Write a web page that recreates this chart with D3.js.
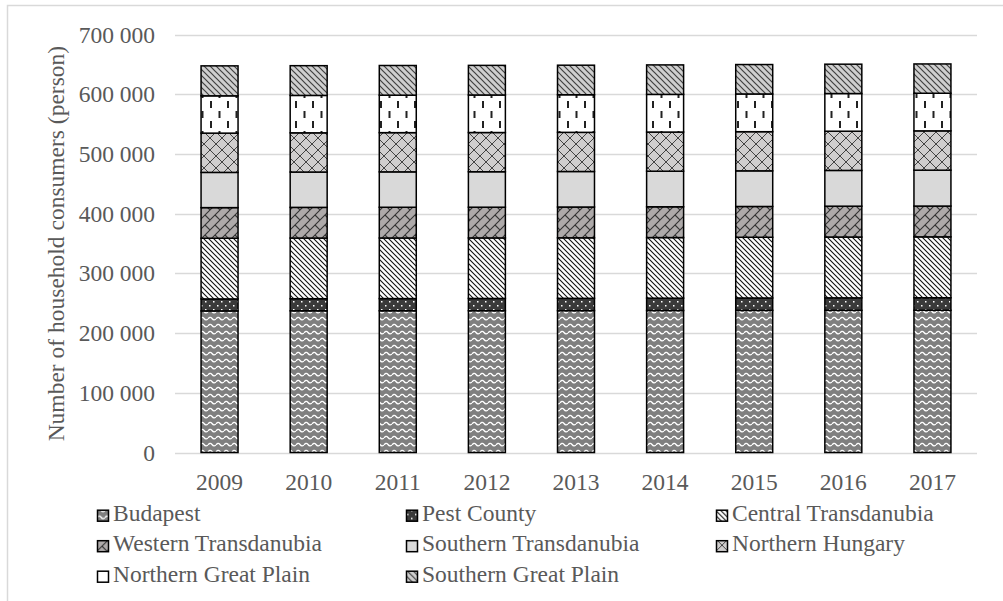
<!DOCTYPE html>
<html>
<head>
<meta charset="utf-8">
<script src="https://cdn.jsdelivr.net/npm/d3@7"></script>
<style>
  html, body { margin: 0; padding: 0; background: #fff; }
  svg { display: block; }
  text { font-family: "Liberation Serif", "Times New Roman", serif; fill: #595959; }
</style>
</head>
<body>
<svg id="chart" width="1003" height="601"></svg>
<script>
// ---- Data (persons) ----
const years = ["2009", "2010", "2011", "2012", "2013", "2014", "2015", "2016", "2017"];
const seriesNames = ["Budapest", "Pest County", "Central Transdanubia", "Western Transdanubia",
  "Southern Transdanubia", "Northern Hungary", "Northern Great Plain", "Southern Great Plain"];
const budapest            = [237200, 237400, 237500, 237600, 237700, 237900, 238100, 238200, 238300];
const pestCounty          = [20100, 20300, 20400, 20500, 20600, 20700, 20800, 20900, 21000];
const centralTransdanubia = [101700, 101600, 101500, 101400, 101400, 101500, 101700, 101900, 102000];
const westernTransdanubia = [51300, 51400, 51500, 51500, 51600, 51600, 51600, 51700, 51600];
const southernTransdanubia= [59000, 59200, 59300, 59400, 59500, 59600, 59700, 59900, 60100];
const northernHungary     = [65800, 65700, 65700, 65700, 65600, 65600, 65600, 65700, 65900];
const northernGreatPlain  = [62500, 62700, 62800, 62900, 63000, 63100, 63200, 63100, 63000];
const southernGreatPlain  = [50200, 49800, 49700, 49600, 49500, 49400, 49300, 49200, 49100];
const yTicks = [0, 100000, 200000, 300000, 400000, 500000, 600000, 700000];
const yTitle = "Number of household consumers (person)";

const seriesValues = [budapest, pestCounty, centralTransdanubia, westernTransdanubia,
  southernTransdanubia, northernHungary, northernGreatPlain, southernGreatPlain];

// table for d3.stack
const table = years.map((y, i) => {
  const row = { year: y };
  seriesNames.forEach((s, k) => row[s] = seriesValues[k][i]);
  return row;
});

const FS = 23.5;
const svg = d3.select("#chart");

// ---- outer chart border ----
svg.append("rect").attr("x", 7.5).attr("y", 5.5).attr("width", 1000).attr("height", 600)
  .attr("fill", "none").attr("stroke", "#d9d9d9").attr("stroke-width", 1.5);

// ---- patterns ----
const defs = svg.append("defs");
function pattern(id, w, h, bg, draw) {
  const p = defs.append("pattern").attr("id", id).attr("patternUnits", "userSpaceOnUse")
    .attr("width", w).attr("height", h);
  p.append("rect").attr("width", w).attr("height", h).attr("fill", bg);
  draw(p);
}
pattern("p0", 8, 7, "#7f7f7f", p => p.append("path")
  .attr("d", "M0,4 Q2,1 4,3.5 Q6,6 8,4").attr("fill", "none").attr("stroke", "#fff").attr("stroke-width", 1.3));
pattern("p1", 8, 8, "#3a3a3a", p => {
  p.append("rect").attr("x", 1).attr("y", 1).attr("width", 1.5).attr("height", 1.5).attr("fill", "#fff");
  p.append("rect").attr("x", 5).attr("y", 5).attr("width", 1.5).attr("height", 1.5).attr("fill", "#fff");
});
pattern("p2", 5, 5, "#fff", p => p.append("path")
  .attr("d", "M0,0 L5,5 M-1,4 L1,6 M4,-1 L6,1").attr("stroke", "#111").attr("stroke-width", 1.1));
pattern("p3", 10, 10, "#aeaaaa", p => p.append("path")
  .attr("d", "M0,10 L10,0 M-1,1 L1,-1 M9,11 L11,9 M5,5 L10,10").attr("stroke", "#333").attr("stroke-width", 1.1));
pattern("p4", 10, 10, "#d9d9d9", p => {});
pattern("p5", 12, 12, "#d0cece", p => p.append("path")
  .attr("d", "M0,0 L12,12 M12,0 L0,12").attr("stroke", "#444").attr("stroke-width", 1));
pattern("p6", 17, 20, "#fff", p => {
  p.append("rect").attr("x", 6).attr("y", 1).attr("width", 2).attr("height", 7).attr("fill", "#222");
  p.append("rect").attr("x", 14.5).attr("y", 11).attr("width", 2).attr("height", 7).attr("fill", "#222");
});
pattern("p7", 6, 6, "#cfcfcf", p => p.append("path")
  .attr("d", "M0,0 L6,6 M-1,5 L1,7 M5,-1 L7,1").attr("stroke", "#404040").attr("stroke-width", 1.2));

// ---- scales ----
const x = d3.scaleBand().domain(years).range([175, 977]).paddingInner(0.585).paddingOuter(0.2925);
const y = d3.scaleLinear().domain([0, 700000]).range([452.5, 34.7]);

const loc = d3.formatLocale({ decimal: ".", thousands: " ", grouping: [3], currency: ["", ""] });
const fmt = loc.format(",");

// ---- gridlines ----
svg.append("g").selectAll("line").data(yTicks).join("line")
  .attr("x1", 175).attr("x2", 977)
  .attr("y1", d => Math.round(y(d)) + 0.5).attr("y2", d => Math.round(y(d)) + 0.5)
  .attr("stroke", "#d9d9d9").attr("stroke-width", 1.5);

// ---- y axis labels ----
const yAxis = d3.axisLeft(y).tickValues(yTicks).tickFormat(fmt).tickSize(0).tickPadding(0);
const gy = svg.append("g").attr("transform", "translate(155,0)").call(yAxis);
gy.select(".domain").remove();
gy.selectAll("text").attr("font-size", FS).attr("fill", "#595959")
  .attr("font-family", "Liberation Serif, serif");

// ---- x axis labels ----
const xAxis = d3.axisBottom(x).tickSize(0).tickPadding(0);
const gx = svg.append("g").attr("transform", "translate(0,474)").call(xAxis);
gx.select(".domain").remove();
gx.selectAll("text").attr("font-size", FS).attr("fill", "#595959")
  .attr("font-family", "Liberation Serif, serif").attr("dy", "0.7em");

// ---- bars ----
const stack = d3.stack().keys(seriesNames);
const layers = stack(table);
svg.append("g").selectAll("g").data(layers).join("g")
  .attr("fill", (d, i) => `url(#p${i})`)
  .selectAll("rect").data(d => d).join("rect")
  .attr("x", d => x(d.data.year))
  .attr("width", x.bandwidth())
  .attr("y", d => y(d[1]))
  .attr("height", d => y(d[0]) - y(d[1]))
  .attr("stroke", "#000").attr("stroke-width", 1.5);

// ---- y title ----
svg.append("text")
  .attr("transform", `translate(64,${(y(0) + y(700000)) / 2}) rotate(-90)`)
  .attr("text-anchor", "middle").attr("font-size", FS)
  .text(yTitle);

// ---- legend ----
const colX = [97, 406, 716];
const rowY = [520.7, 551.2, 581.7];
const lg = svg.append("g").selectAll("g").data(seriesNames).join("g")
  .attr("transform", (d, i) => `translate(${colX[i % 3]},${rowY[Math.floor(i / 3)]})`);
lg.append("rect").attr("x", 0.5).attr("y", -10.5).attr("width", 11).attr("height", 11)
  .attr("fill", (d, i) => `url(#p${i})`).attr("stroke", "#000").attr("stroke-width", 1.5);
lg.append("text").attr("x", 16).attr("y", 0).attr("font-size", FS).text(d => d);
</script>
</body>
</html>
